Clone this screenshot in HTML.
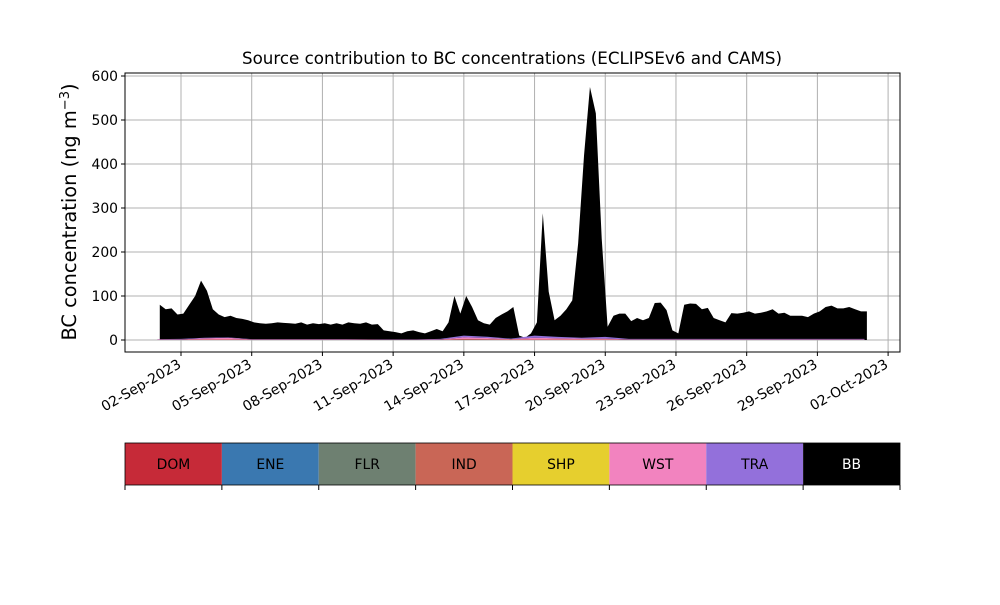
<!DOCTYPE html>
<html><head><meta charset="utf-8"><style>
body{margin:0;background:#fff}
svg text{font-family:"DejaVu Sans","Liberation Sans",sans-serif}
</style></head><body>
<svg id="c" width="1000" height="600" viewBox="0 0 1000 600">
<text x="512" y="64" text-anchor="middle" font-size="16.7">Source contribution to BC concentrations (ECLIPSEv6 and CAMS)</text>
<text transform="translate(76,212) rotate(-90)" text-anchor="middle" font-size="19.4">BC concentration (ng m<tspan baseline-shift="super" font-size="13">−3</tspan>)</text>
<g id="grid"></g><g id="areas"></g><g id="axes"></g><g id="cbar"></g>
</svg>
<script>
const bbValues = [80,70,72,58, 60,80,100,135, 112,70,58,52, 55,50,48,45, 40,38,37,38, 40,39,38,37, 40,35,38,36, 38,35,38,35, 40,38,37,40, 35,36,22,20, 18,15,20,22, 18,15,20,25, 20,40,100,60, 100,75,45,38, 35,50,58,65, 75,10,5,15, 40,288,110,45, 55,70,90,220, 420,575,515,230, 30,55,60,60, 43,50,45,50, 84,85,68,22, 15,80,83,82, 70,73,50,45, 40,61,60,62, 65,60,62,65, 70,60,62,55, 55,55,52,60, 65,75,78,72, 72,75,70,65, 65];
const smallDays = [1,2,3,4,5,6,7,8,9,10,11,12,13,14,15,16,17,18,19,20,21,22,23,24,25,26,27,28,29,30,31];
const indValues = [0.5,0.5,1,1,0.5,0.5,0.5,0.5,0.5,0.5,0.3,0.3,0.5,2,1.5,1,1,1,1,1,0.5,0.5,0.5,0.5,0.5,0.5,0.5,0.5,0.5,0.5,0.5];
const wstValues = [1,1,3,4,1,1,1,1,1,0.5,0.5,0.5,1,4,3,1,4,3,2,2,1,1,1,1,1,1,1,1,1,1,1];
const traValues = [0.5,1,1,1,0.5,0.5,0.5,0.5,0.5,0.5,0.5,0.5,1,4,3,1,5,3,2,4,1,1,1,1,1,1,1,1,1,1,1];
const yTicks = [0,100,200,300,400,500,600];
const xTickLabels = ["02-Sep-2023","05-Sep-2023","08-Sep-2023","11-Sep-2023","14-Sep-2023","17-Sep-2023","20-Sep-2023","23-Sep-2023","26-Sep-2023","29-Sep-2023","02-Oct-2023"];
const xTickDays = [2,5,8,11,14,17,20,23,26,29,32];
const sources = ["DOM","ENE","FLR","IND","SHP","WST","TRA","BB"];
const sourceColors = ["#c62a38","#3a78b0","#6e8071","#c96656","#e6cf2e","#f283bf","#9370db","#000000"];

const NS="http://www.w3.org/2000/svg";
const L=125,R=900,T=73,B=352;
const x = d => 181 + (d-2)*23.57;
const y = v => 340 - v*0.44;
function el(tag,attrs,parent){const e=document.createElementNS(NS,tag);for(const k in attrs)e.setAttribute(k,attrs[k]);parent.appendChild(e);return e;}
const grid=document.getElementById('grid'),areas=document.getElementById('areas'),axes=document.getElementById('axes'),cbar=document.getElementById('cbar');

yTicks.forEach(v=>{
  const g=el('line',{x1:L,x2:R,y1:y(v),y2:y(v),stroke:'#b0b0b0','stroke-width':1},grid);
  
  
  const t=el('line',{x1:L-4,x2:L,y1:y(v),y2:y(v),stroke:'#000'},axes);
  
  
  const tx=el('text',{x:L-7,y:y(v)+5,'text-anchor':'end','font-size':13.9},axes);
  tx.textContent=v;
  
  
});
xTickDays.forEach((d,i)=>{
  const g=el('line',{x1:x(d),x2:x(d),y1:T,y2:B,stroke:'#b0b0b0','stroke-width':1},grid);
  
  
  const t=el('line',{x1:x(d),x2:x(d),y1:B,y2:B+4,stroke:'#000'},axes);
  
  
  const tx=el('text',{transform:`translate(${x(d)+1},${B+15}) rotate(-30)`,'text-anchor':'end','font-size':13.9},axes);
  tx.textContent=xTickLabels[i];
  
  
});

let pts=[];
bbValues.forEach((v,i)=>{pts.push([x(1+i*0.25+0.1),y(v)]);});
let dstr='M'+pts[0][0]+','+y(0)+' '+pts.map(p=>'L'+p[0]+','+p[1]).join(' ')+' L'+pts[pts.length-1][0]+','+y(0)+'Z';
const bb=el('path',{d:dstr,fill:'#000'},areas);



const stackSeries=[[indValues,sourceColors[3],'ind-area'],[wstValues,sourceColors[5],'wst-area'],[traValues,sourceColors[6],'tra-area']];
let base=smallDays.map(()=>0);
stackSeries.forEach(([vals,col,name])=>{
  const top=vals.map((v,i)=>base[i]+v);
  const xs=smallDays.map(d=>x(d));
  let d='M'+xs.map((xx,i)=>xx+','+y(top[i])).join(' L');
  for(let i=xs.length-1;i>=0;i--) d+=' L'+xs[i]+','+y(base[i]);
  d+='Z';
  const p=el('path',{d:d,fill:col},areas);
  
  
  base=top;
});

const frame=el('rect',{x:L,y:T,width:R-L,height:B-T,fill:'none',stroke:'#000','stroke-width':1},axes);



const cw=(R-L)/sources.length;
sources.forEach((s,i)=>{
  const r=el('rect',{x:L+i*cw,y:443,width:cw,height:42,fill:sourceColors[i]},cbar);
  
  
  const t=el('text',{x:L+i*cw+cw/2,y:469,'text-anchor':'middle','font-size':13.9,fill:s==='BB'?'#fff':'#000'},cbar);
  t.textContent=s;
  
  
});
for(let i=0;i<=sources.length;i++){
  const t=el('line',{x1:L+i*cw,x2:L+i*cw,y1:485,y2:490,stroke:'#000'},cbar);
  
  
}
const cf=el('rect',{x:L,y:443,width:R-L,height:42,fill:'none',stroke:'#000','stroke-width':0.8},cbar);


</script>
</body></html>
